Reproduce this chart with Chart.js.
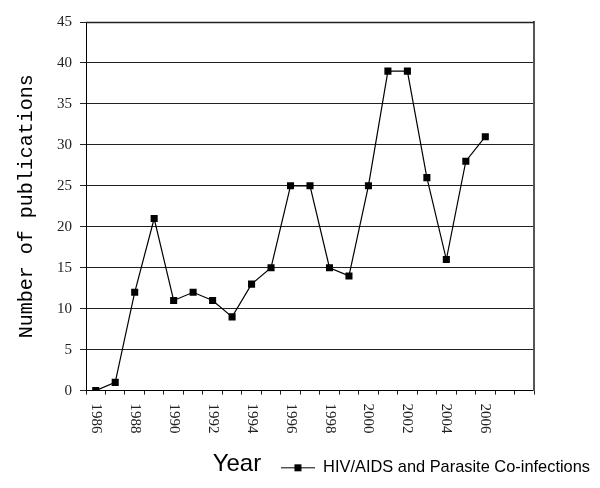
<!DOCTYPE html>
<html>
<head>
<meta charset="utf-8">
<script src="https://cdn.jsdelivr.net/npm/chart.js@4/dist/chart.umd.min.js"></script>
<style>
html, body { margin: 0; padding: 0; background: #fff; }
#wrap { width: 600px; height: 488px; }
</style>
</head>
<body>
<div id="wrap"><canvas id="pubChart"></canvas></div>
<script>
var years = ['1986', '1987', '1988', '1989', '1990', '1991', '1992', '1993', '1994', '1995', '1996',
             '1997', '1998', '1999', '2000', '2001', '2002', '2003', '2004', '2005', '2006', '2007', '2008'];
var shownYears = ['1986', '1988', '1990', '1992', '1994', '1996', '1998', '2000', '2002', '2004', '2006'];
var publications = [0, 1, 12, 21, 11, 12, 11, 9, 13, 15, 25, 25, 15, 14, 25, 39, 39, 26, 16, 28, 31];
var seriesName = 'HIV/AIDS and Parasite Co-infections';
var xTitle = 'Year';
var yTitle = 'Number of publications';

// legend marker: line with a square on it
var mark = document.createElement('canvas');
mark.width = 34;
mark.height = 9;
var m = mark.getContext('2d');
m.strokeStyle = '#000';
m.lineWidth = 1.2;
m.beginPath();
m.moveTo(0, 4.5);
m.lineTo(34, 4.5);
m.stroke();
m.fillStyle = '#000';
m.fillRect(13.5, 1, 7, 7);

var extraText = {
    id: 'extraText',
    afterDraw: function (chart) {
        var ctx = chart.ctx;
        var xs = chart.scales.x;
        var ys = chart.scales.y;
        var area = chart.chartArea;
        ctx.save();
        // top edge of the plot
        var topY = Math.round(ys.getPixelForValue(45)) + 0.5;
        ctx.strokeStyle = '#222';
        ctx.lineWidth = 1.4;
        ctx.beginPath();
        ctx.moveTo(area.left, topY);
        ctx.lineTo(area.right, topY);
        ctx.stroke();

        ctx.fillStyle = '#222';
        ctx.font = '15px "Liberation Serif"';
        ctx.textAlign = 'left';
        ctx.textBaseline = 'middle';
        years.forEach(function (yr, i) {
            if (shownYears.indexOf(yr) < 0) return;
            ctx.save();
            ctx.translate(xs.getPixelForValue(i), area.bottom + 13);
            ctx.rotate(Math.PI / 2);
            ctx.fillText(yr, 0, 0);
            ctx.restore();
        });
        var box = chart.legend.legendHitBoxes[0];
        ctx.fillStyle = '#000';
        ctx.font = '24px "Liberation Sans"';
        ctx.textAlign = 'center';
        ctx.fillText(xTitle, box.left - 44, box.top + box.height / 2 - 3);
        ctx.restore();
    }
};

var ctx = document.getElementById('pubChart').getContext('2d');
var pubChart = new Chart(ctx, {
    type: 'line',
    data: {
        labels: years,
        datasets: [{
            label: seriesName,
            data: publications,
            yAxisID: 'y',
            borderColor: '#000',
            borderWidth: 1.2,
            backgroundColor: '#000',
            pointStyle: 'rect',
            pointRadius: 5,
            pointBorderWidth: 0,
            tension: 0
        }]
    },
    options: {
        responsive: true,
        maintainAspectRatio: false,
        animation: false,
        layout: { padding: { top: 22, right: 0, bottom: 2, left: 0 } },
        plugins: {
            tooltip: { enabled: false },
            legend: {
                position: 'bottom',
                align: 'end',
                labels: {
                    usePointStyle: true,
                    pointStyle: mark,
                    pointStyleWidth: 34,
                    color: '#000',
                    font: { family: '"Liberation Sans"', size: 16.4 },
                    padding: 10
                }
            }
        },
        scales: {
            x: {
                offset: true,
                grid: { offset: true, drawOnChartArea: false, drawTicks: true, tickLength: 4, color: '#222' },
                border: { color: '#000', width: 1 },
                ticks: { display: false, autoSkip: false },
                afterFit: function (scale) { scale.height = 59; }
            },
            y: {
                min: 0,
                max: 45,
                ticks: {
                    stepSize: 5,
                    color: '#222',
                    padding: 8,
                    font: { family: '"Liberation Serif"', size: 15 }
                },
                grid: { color: '#222', lineWidth: 1, tickLength: 6 },
                border: { color: '#000', width: 1 },
                title: {
                    display: true,
                    text: yTitle,
                    color: '#000',
                    font: { family: '"Liberation Mono"', size: 20 },
                    padding: { top: 15, bottom: 0 }
                },
                afterFit: function (scale) { scale.width = 86; }
            },
            y2: {
                position: 'right',
                min: 0,
                max: 45,
                ticks: { display: false },
                grid: { display: false },
                border: { color: '#555', width: 2 },
                afterFit: function (scale) { scale.width = 66; }
            }
        }
    },
    plugins: [extraText]
});
</script>
</body>
</html>
